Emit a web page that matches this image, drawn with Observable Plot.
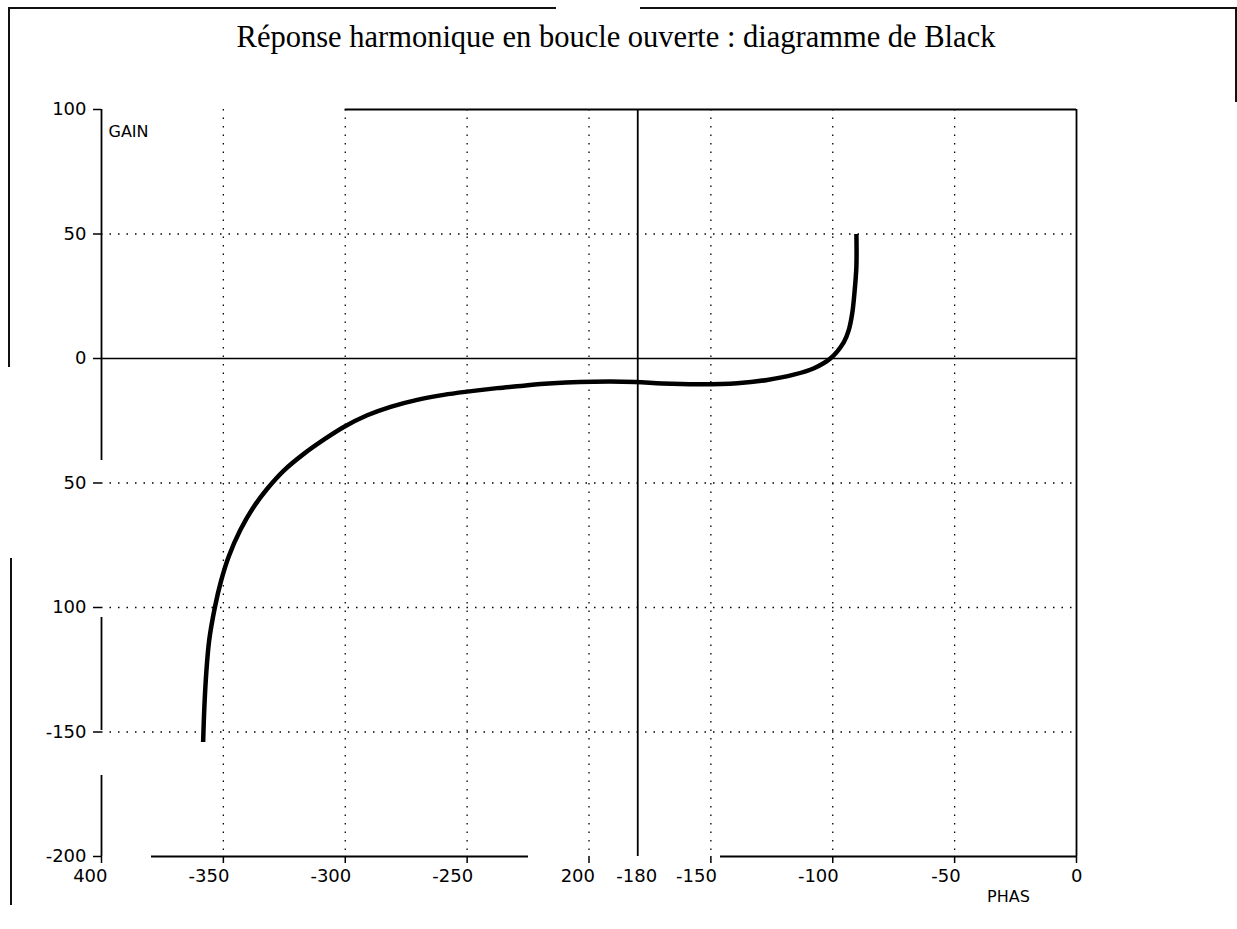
<!DOCTYPE html>
<html>
<head>
<meta charset="utf-8">
<script src="https://cdn.jsdelivr.net/npm/d3@7"></script>
<script src="https://cdn.jsdelivr.net/npm/@observablehq/plot@0.6"></script>
<style>
  html, body { margin: 0; padding: 0; background: #fff; }
  #page { position: relative; width: 1237px; height: 929px; overflow: hidden; }
  #title { position: relative; height: 80px; }
  #title span { position: absolute; top: 22px; left: 0; width: 1232px; text-align: center;
    font-family: "Liberation Serif", "DejaVu Serif", serif; font-size: 30.5px; line-height: 30px; color: #000; }
  .fr { position: absolute; background: #111; }
  #chart svg { display: block; }
</style>
</head>
<body>
<div id="page">
  <div id="title"><span>Réponse harmonique en boucle ouverte : diagramme de Black</span></div>
  <div id="chart"></div>
  <div class="fr" style="left:8px;top:7px;width:548px;height:2px"></div>
  <div class="fr" style="left:640px;top:7px;width:597px;height:2px"></div>
  <div class="fr" style="left:8px;top:7px;width:2px;height:360px"></div>
  <div class="fr" style="left:10px;top:558px;width:1.5px;height:347px"></div>
  <div class="fr" style="left:1235px;top:7px;width:2px;height:95px"></div>
</div>
<script>
// Black (Nichols) curve: phase (deg) and gain (dB)
const phase = [-358.3, -357.8, -357.0, -355.8, -353.5, -351.0, -347.8, -343.0, -337.5, -332.0,
  -325.2, -317.0, -308.8, -300.6, -291.0, -281.4, -270.5, -259.6, -250.0, -237.7,
  -228.0, -219.9, -198.0, -181.0, -170.0, -154.3, -139.2, -126.9, -116.0, -107.7,
  -101.0, -95.5, -93.4, -92.0, -91.1, -90.3, -90.3];
const gain = [-154.0, -140.0, -126.0, -113.0, -100.0, -89.5, -79.5, -68.8, -59.5, -52.3,
  -45.0, -38.3, -32.6, -27.5, -22.8, -19.4, -16.6, -14.6, -13.3, -11.9,
  -11.0, -10.2, -9.3, -9.4, -10.0, -10.3, -9.9, -8.6, -6.5, -3.9,
  0.0, 6.5, 11.5, 18.2, 26.3, 37.0, 50.0];

// axes, grid and tick labels as printed on the original
const yTicks = [100, 50, 0, -50, -100, -150, -200];
const yTickLabels = ["100", "50", "0", "50", "100", "-150", "-200"];
const xTicks = [-400, -350, -300, -250, -200, -150, -100, -50, 0];
const xLabelPos = [-400, -350, -300, -250, -200, -174.5, -150, -100, -50, 0];
const xLabels = ["400", "-350", "-300", "-250", "200", "-180", "-150", "-100", "-50", "0"];
const gridX = [-350, -300, -250, -200, -150, -100, -50];
const gridY = [50, -50, -100, -150];

const curve = phase.map((p, i) => ({p, g: gain[i]}));
const xl = xLabelPos.map((x, i) => ({x, t: xLabels[i]}));

const chart = Plot.plot({
  width: 1237,
  height: 849,
  marginLeft: 101,
  marginRight: 161,
  marginTop: 29,
  marginBottom: 73,
  style: {fontFamily: "DejaVu Sans, sans-serif", fontSize: "18px", color: "#000", background: "#fff"},
  x: {domain: [-400, 0]},
  y: {domain: [-200, 100]},
  marks: [
    Plot.ruleX(gridX, {stroke: "#000", strokeWidth: 1.3, strokeDasharray: "1.5,7"}),
    Plot.ruleY(gridY, {stroke: "#000", strokeWidth: 1.3, strokeDasharray: "1.5,7"}),
    Plot.ruleY([0], {stroke: "#000", strokeWidth: 1.5}),
    Plot.ruleX([-180], {stroke: "#000", strokeWidth: 1.8}),
    Plot.ruleY([100], {x1: -300, x2: 0, stroke: "#000", strokeWidth: 1.8}),
    Plot.ruleX([0], {stroke: "#000", strokeWidth: 1.8}),
    Plot.ruleX([-400], {stroke: "#000", strokeWidth: 1.8, strokeDasharray: "351,157,113,45,81,20"}),
    Plot.ruleY([-200], {stroke: "#000", strokeWidth: 1.8, strokeDasharray: "0,50,377,192,356,20"}),
    Plot.axisY({ticks: yTicks, tickSize: 8, tickPadding: 7, tickFormat: (d) => yTickLabels[yTicks.indexOf(d)], label: null, fontSize: 18, strokeWidth: 1.5}),
    Plot.axisX({ticks: xTicks, tickSize: 7, tickFormat: () => "", label: null, strokeWidth: 1.5}),
    Plot.text(xl, {x: "x", y: () => -200, text: "t", textAnchor: "end", dx: 6, dy: 20, fontSize: 18, lineAnchor: "middle"}),
    Plot.text(["GAIN"], {x: () => -400, y: () => 100, text: (d) => d, textAnchor: "start", dx: 7, dy: 22, fontSize: 16, lineAnchor: "middle"}),
    Plot.text(["PHAS"], {x: () => 0, y: () => -200, text: (d) => d, textAnchor: "middle", dx: -68, dy: 40, fontSize: 16, lineAnchor: "middle"}),
    Plot.line(curve, {x: "p", y: "g", stroke: "#000", strokeWidth: 4.5, curve: "catmull-rom", strokeLinecap: "butt"})
  ]
});
document.getElementById("chart").appendChild(chart);
</script>
</body>
</html>
